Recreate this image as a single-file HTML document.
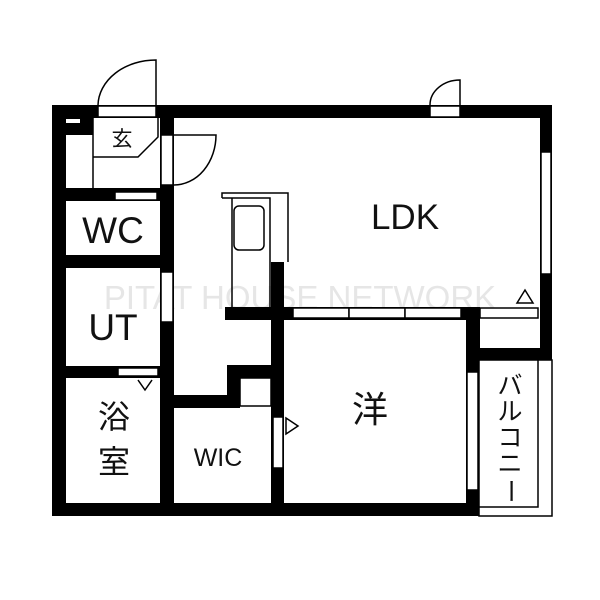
<!DOCTYPE html><html><head><style>body{margin:0;background:#fff}svg{display:block}
text{font-family:"Liberation Sans","Noto Sans CJK JP",sans-serif;fill:#111}</style></head><body>
<svg width="600" height="600" viewBox="0 0 600 600">
<text x="300" y="309" font-size="33" text-anchor="middle" style="fill:#e6e6e6">PITAT HOUSE NETWORK</text>
<g fill="#000">
<rect x="52" y="105" width="500" height="13"/>
<rect x="52" y="105" width="14" height="411"/>
<rect x="52" y="503" width="427" height="13"/>
<rect x="540" y="105" width="12" height="255"/>
<rect x="160" y="105" width="14" height="411"/>
<rect x="52" y="105" width="41" height="30"/>
<rect x="52" y="188" width="122" height="13"/>
<rect x="52" y="255" width="122" height="13"/>
<rect x="52" y="366" width="122" height="12"/>
<rect x="225" y="307" width="254" height="13"/>
<rect x="466" y="307" width="14" height="209"/>
<rect x="478" y="348" width="74" height="12"/>
<rect x="271" y="262" width="13" height="254"/>
<rect x="172" y="395" width="68" height="13"/>
<rect x="227" y="365" width="13" height="43"/>
<rect x="227" y="365" width="57" height="13"/>
</g>
<g fill="#fff" stroke="#000" stroke-width="1.5">
<rect x="66" y="119" width="14" height="4" stroke="none"/>
<rect x="98" y="106" width="58" height="11"/>
<rect x="115" y="192" width="42" height="8"/>
<rect x="161" y="272" width="12" height="50"/>
<rect x="118" y="368" width="40" height="8"/>
<rect x="161" y="135" width="12" height="50"/>
<rect x="430" y="106" width="30" height="11"/>
<rect x="541" y="152" width="10" height="122"/>
<rect x="293" y="308" width="56" height="10"/>
<rect x="349" y="308" width="56" height="10"/>
<rect x="405" y="308" width="56" height="10"/>
<rect x="480" y="308" width="58" height="10"/>
<rect x="467" y="372" width="11" height="118"/>
<rect x="273" y="417" width="10" height="51"/>
<rect x="240" y="378" width="31" height="28"/>
<rect x="479" y="360" width="73" height="156"/>
<rect x="479" y="360" width="59" height="147"/>
</g>
<g fill="none" stroke="#000" stroke-width="1.5">
<path d="M93 118 V188 M93 157 H138 L158 137 V118"/>
<path d="M156 105 V60 A58 46 0 0 0 98 105"/>
<path d="M174 135 H216 A42 50 0 0 1 174 185"/>
<path d="M460 105 V80 A30 25 0 0 0 430 105"/>
<path d="M222 198 H270 V310 M222 198 V193 H288 V262 M232 198 V310"/>
<rect x="234" y="206" width="30" height="44" rx="5"/>
<path d="M517 303 L525 290 L533 303 Z M138 380 L145 390 L152 380 M286 418 L298 426 L286 434 Z"/>
</g>
<text x="122" y="146" font-size="21" text-anchor="middle">玄</text>
<text x="113" y="243" font-size="37" text-anchor="middle">WC</text>
<text x="113" y="340" font-size="37" text-anchor="middle">UT</text>
<text x="114" y="428" font-size="32" text-anchor="middle">浴</text>
<text x="114" y="473" font-size="32" text-anchor="middle">室</text>
<text x="218" y="466" font-size="25" text-anchor="middle">WIC</text>
<text x="405" y="229" font-size="35" text-anchor="middle">LDK</text>
<text x="370" y="422" font-size="36" text-anchor="middle">洋</text>
<text x="510" y="394" font-size="25" text-anchor="middle">バ</text>
<text x="510" y="420" font-size="25" text-anchor="middle">ル</text>
<text x="510" y="446" font-size="25" text-anchor="middle">コ</text>
<text x="510" y="472" font-size="25" text-anchor="middle">ニ</text>
<text x="510" y="499" font-size="25" text-anchor="middle" transform="rotate(90 510 491)">ー</text>
</svg></body></html>
